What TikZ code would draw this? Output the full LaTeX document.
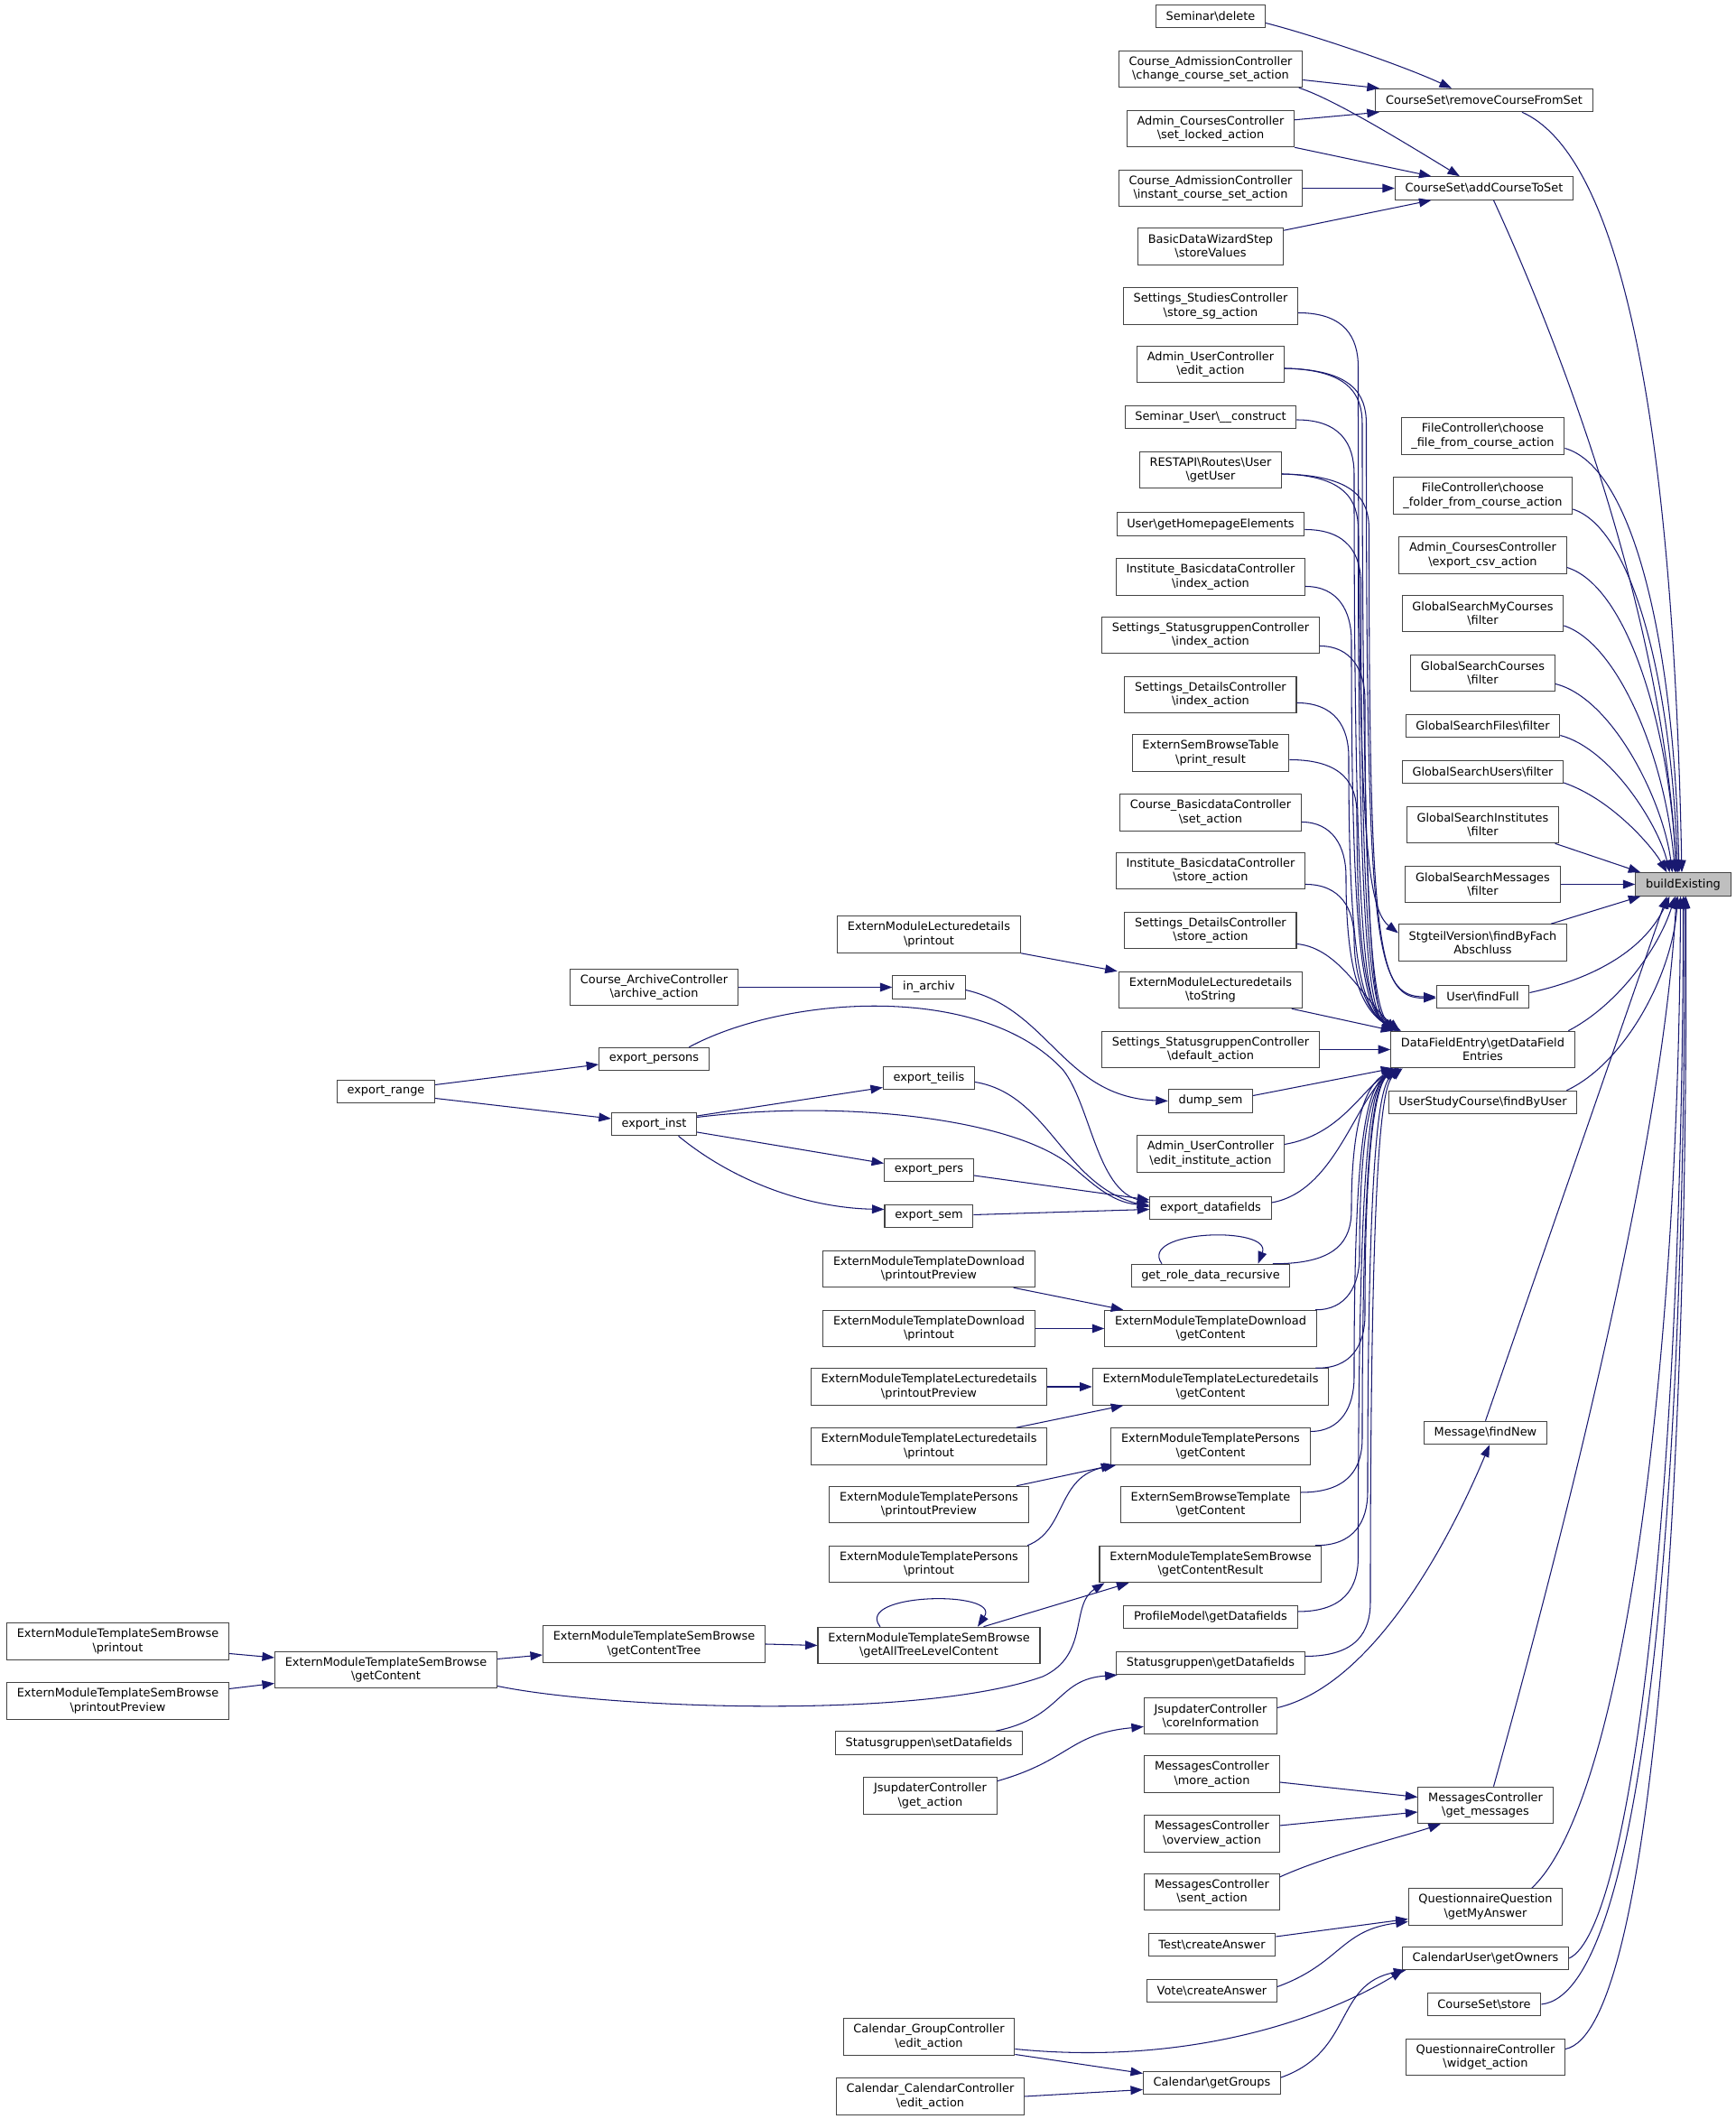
\documentclass[tikz,border=0pt]{standalone}
\usepackage{fontspec}
\setmainfont{DejaVu Sans}
\usetikzlibrary{arrows.meta,calc}
\definecolor{edgecol}{HTML}{191970}
\definecolor{boxcol}{HTML}{444444}
\definecolor{hlcol}{HTML}{BFBFBF}
\newcommand{\bsl}{\textbackslash}
\newcommand{\nodefont}{\fontsize{8.6pt}{10.2pt}\selectfont}
\tikzset{
  nbox/.style={draw=boxcol, line width=0.7pt, fill=white, font=\nodefont,
    inner xsep=7.5pt, inner ysep=0pt, minimum height=17pt, align=center},
  twoline/.style={minimum height=27pt},
  callarrow/.style={draw=edgecol, line width=0.7pt, -{Triangle[length=9pt,width=6.5pt]}},
}
\begin{document}
\begin{tikzpicture}[x=1pt,y=-1pt]
\fill[white] (0,0) rectangle (1282,1564.7);
\useasboundingbox (0,0) rectangle (1282,1564.7);

% ---------- level 0 ----------
\node[nbox,fill=hlcol] (be) at (1243,653) {buildExisting};

% ---------- level 1 ----------
\node[nbox] (rcfs) at (1096,74) {CourseSet\bsl removeCourseFromSet};
\node[nbox] (acts) at (1096,139) {CourseSet\bsl addCourseToSet};
\node[nbox,twoline] (cff) at (1095,322) {FileController\bsl choose\\\_file\_from\_course\_action};
\node[nbox,twoline] (cfo) at (1095,366) {FileController\bsl choose\\\_folder\_from\_course\_action};
\node[nbox,twoline] (ecsv) at (1095,410) {Admin\_CoursesController\\\bsl export\_csv\_action};
\node[nbox,twoline] (gsmc) at (1095,453) {GlobalSearchMyCourses\\\bsl filter};
\node[nbox,twoline] (gsc) at (1095,497) {GlobalSearchCourses\\\bsl filter};
\node[nbox] (gsf) at (1095,536) {GlobalSearchFiles\bsl filter};
\node[nbox] (gsu) at (1095,570) {GlobalSearchUsers\bsl filter};
\node[nbox,twoline] (gsi) at (1095,609) {GlobalSearchInstitutes\\\bsl filter};
\node[nbox,twoline] (gsm) at (1095,653) {GlobalSearchMessages\\\bsl filter};
\node[nbox,twoline] (stg) at (1095,696) {StgteilVersion\bsl findByFach\\Abschluss};
\node[nbox] (uff) at (1095,736) {User\bsl findFull};
\node[nbox,twoline] (dfe) at (1095,775) {DataFieldEntry\bsl getDataField\\Entries};
\node[nbox] (usc) at (1095,814) {UserStudyCourse\bsl findByUser};
\node[nbox] (mfn) at (1097,1058) {Message\bsl findNew};
\node[nbox,twoline] (mgm) at (1097,1333) {MessagesController\\\bsl get\_messages};
\node[nbox,twoline] (qgma) at (1097,1408) {QuestionnaireQuestion\\\bsl getMyAnswer};
\node[nbox] (cugo) at (1097,1446) {CalendarUser\bsl getOwners};
\node[nbox] (css) at (1096,1480) {CourseSet\bsl store};
\node[nbox,twoline] (qcwa) at (1097,1519) {QuestionnaireController\\\bsl widget\_action};

% ---------- level 2 ----------
\node[nbox] (sd) at (894,12) {Seminar\bsl delete};
\node[nbox,twoline] (cacc) at (894,51) {Course\_AdmissionController\\\bsl change\_course\_set\_action};
\node[nbox,twoline] (acsl) at (894,95) {Admin\_CoursesController\\\bsl set\_locked\_action};
\node[nbox,twoline] (caci) at (894,139) {Course\_AdmissionController\\\bsl instant\_course\_set\_action};
\node[nbox,twoline] (bdws) at (894,182) {BasicDataWizardStep\\\bsl storeValues};
\node[nbox,twoline] (sssg) at (894,226) {Settings\_StudiesController\\\bsl store\_sg\_action};
\node[nbox,twoline] (auce) at (894,269) {Admin\_UserController\\\bsl edit\_action};
\node[nbox] (suc) at (894,308) {Seminar\_User\bsl\_\_construct};
\node[nbox,twoline] (rru) at (894,347) {RESTAPI\bsl Routes\bsl User\\\bsl getUser};
\node[nbox] (ugh) at (894,387) {User\bsl getHomepageElements};
\node[nbox,twoline] (ibi) at (894,426) {Institute\_BasicdataController\\\bsl index\_action};
\node[nbox,twoline] (ssi) at (894,469) {Settings\_StatusgruppenController\\\bsl index\_action};
\node[nbox,twoline] (sdi) at (894,513) {Settings\_DetailsController\\\bsl index\_action};
\node[nbox,twoline] (esbt) at (894,556) {ExternSemBrowseTable\\\bsl print\_result};
\node[nbox,twoline] (cbs) at (894,600) {Course\_BasicdataController\\\bsl set\_action};
\node[nbox,twoline] (ibs) at (894,643) {Institute\_BasicdataController\\\bsl store\_action};
\node[nbox,twoline] (sds) at (894,687) {Settings\_DetailsController\\\bsl store\_action};
\node[nbox,twoline] (emlt) at (894,731) {ExternModuleLecturedetails\\\bsl toString};
\node[nbox,twoline] (ssd) at (894,775) {Settings\_StatusgruppenController\\\bsl default\_action};
\node[nbox] (dump) at (894,813) {dump\_sem};
\node[nbox,twoline] (auei) at (894,852) {Admin\_UserController\\\bsl edit\_institute\_action};
\node[nbox] (edf) at (894,892) {export\_datafields};
\node[nbox] (grdr) at (894,942) {get\_role\_data\_recursive};
\node[nbox,twoline] (emtdg) at (894,981) {ExternModuleTemplateDownload\\\bsl getContent};
\node[nbox,twoline] (emtlg) at (894,1024) {ExternModuleTemplateLecturedetails\\\bsl getContent};
\node[nbox,twoline] (emtpg) at (894,1068) {ExternModuleTemplatePersons\\\bsl getContent};
\node[nbox,twoline] (esbtg) at (894,1111) {ExternSemBrowseTemplate\\\bsl getContent};
\node[nbox,twoline] (emtsr) at (894,1155) {ExternModuleTemplateSemBrowse\\\bsl getContentResult};
\node[nbox] (pmgd) at (894,1194) {ProfileModel\bsl getDatafields};
\node[nbox] (sggd) at (894,1228) {Statusgruppen\bsl getDatafields};
\node[nbox,twoline] (jci) at (894,1267) {JsupdaterController\\\bsl coreInformation};
\node[nbox,twoline] (mcmore) at (895,1310) {MessagesController\\\bsl more\_action};
\node[nbox,twoline] (mcov) at (895,1354) {MessagesController\\\bsl overview\_action};
\node[nbox,twoline] (mcsent) at (895,1397) {MessagesController\\\bsl sent\_action};
\node[nbox] (tca) at (895,1436) {Test\bsl createAnswer};
\node[nbox] (vca) at (895,1470) {Vote\bsl createAnswer};
\node[nbox] (cgg) at (895,1538) {Calendar\bsl getGroups};

% ---------- level 3 ----------
\node[nbox,twoline] (emlp) at (686,690) {ExternModuleLecturedetails\\\bsl printout};
\node[nbox] (inar) at (686,729) {in\_archiv};
\node[nbox] (ete) at (686,796) {export\_teilis};
\node[nbox] (epe) at (686,864) {export\_pers};
\node[nbox] (ese) at (686,898) {export\_sem};
\node[nbox,twoline] (emtdpp) at (686,937) {ExternModuleTemplateDownload\\\bsl printoutPreview};
\node[nbox,twoline] (emtdp) at (686,981) {ExternModuleTemplateDownload\\\bsl printout};
\node[nbox,twoline] (emtlpp) at (686,1024) {ExternModuleTemplateLecturedetails\\\bsl printoutPreview};
\node[nbox,twoline] (emtlp) at (686,1068) {ExternModuleTemplateLecturedetails\\\bsl printout};
\node[nbox,twoline] (emtppp) at (686,1111) {ExternModuleTemplatePersons\\\bsl printoutPreview};
\node[nbox,twoline] (emtpp) at (686,1155) {ExternModuleTemplatePersons\\\bsl printout};
\node[nbox,twoline] (emtsatl) at (686,1215) {ExternModuleTemplateSemBrowse\\\bsl getAllTreeLevelContent};
\node[nbox] (sgsd) at (686,1287) {Statusgruppen\bsl setDatafields};
\node[nbox,twoline] (jga) at (687,1326) {JsupdaterController\\\bsl get\_action};
\node[nbox,twoline] (cgce) at (686,1504) {Calendar\_GroupController\\\bsl edit\_action};
\node[nbox,twoline] (ccce) at (687,1548) {Calendar\_CalendarController\\\bsl edit\_action};

% ---------- level 4 ----------
\node[nbox,twoline] (caa) at (483,729) {Course\_ArchiveController\\\bsl archive\_action};
\node[nbox] (epers) at (483,782) {export\_persons};
\node[nbox] (einst) at (483,830) {export\_inst};
\node[nbox,twoline] (emtsct) at (483,1214) {ExternModuleTemplateSemBrowse\\\bsl getContentTree};

% ---------- level 5 ----------
\node[nbox] (erange) at (285,806) {export\_range};
\node[nbox,twoline] (emtsg) at (285,1233) {ExternModuleTemplateSemBrowse\\\bsl getContent};

% ---------- level 6 ----------
\node[nbox,twoline] (emtsp) at (87,1212) {ExternModuleTemplateSemBrowse\\\bsl printout};
\node[nbox,twoline] (emtspp) at (87,1256) {ExternModuleTemplateSemBrowse\\\bsl printoutPreview};

% ================= edges =================
% top group
\draw[callarrow] ($(sd.east)+(0,5)$) .. controls (970,26) and (1035,48) .. ($(rcfs.north)+(-24,0)$);
\draw[callarrow] ($(cacc.east)+(0,8)$) -- ($(rcfs.north west)+(3,0)$);
\draw[callarrow] ($(cacc.south east)+(-3,0)$) .. controls (985,73) and (1040,107) .. ($(acts.north)+(-18,0)$);
\draw[callarrow] ($(acsl.east)+(0,-6.5)$) -- ($(rcfs.south west)+(3,0)$);
\draw[callarrow] (acsl.south east) -- ($(acts.north)+(-39,0)$);
\draw[callarrow] (caci.east) -- (acts.west);
\draw[callarrow] ($(bdws.north east)+(0,2)$) -- ($(acts.south)+(-39,0)$);

% level 1 -> buildExisting
\draw[callarrow] ($(rcfs.south)+(28,0)$) .. controls (1190,112) and (1235,280) .. ($(be.north)+(-1,0)$);
\draw[callarrow] ($(acts.south)+(7,0)$) .. controls (1150,250) and (1228,450) .. ($(be.north)+(-5,0)$);
\draw[callarrow] ($(cff.east)+(0,9)$) .. controls (1205,345) and (1236,470) .. ($(be.north)+(-3,0)$);
\draw[callarrow] ($(cfo.east)+(0,10)$) .. controls (1205,390) and (1234,500) .. ($(be.north)+(-4,0)$);
\draw[callarrow] ($(ecsv.east)+(0,9)$) .. controls (1200,432) and (1232,530) .. ($(be.north)+(-5,0)$);
\draw[callarrow] ($(gsmc.east)+(0,9)$) .. controls (1195,475) and (1230,560) .. ($(be.north)+(-6,0)$);
\draw[callarrow] ($(gsc.east)+(0,8)$) .. controls (1190,515) and (1228,590) .. ($(be.north)+(-8,0)$);
\draw[callarrow] ($(gsf.east)+(0,7)$) .. controls (1190,553) and (1225,610) .. ($(be.north)+(-10,0)$);
\draw[callarrow] ($(gsu.east)+(0,8)$) .. controls (1190,590) and (1220,625) .. ($(be.north)+(-12,0)$);
\draw[callarrow] ($(gsi.south east)+(-3,0)$) -- ($(be.north west)+(4,0)$);
\draw[callarrow] (gsm.east) -- (be.west);
\draw[callarrow] ($(stg.north east)+(-12,0)$) -- ($(be.south west)+(4,0)$);
\draw[callarrow] ($(uff.east)+(0,-3)$) .. controls (1180,722) and (1215,700) .. ($(be.south)+(-10,0)$);
\draw[callarrow] ($(dfe.north east)+(-5,0)$) .. controls (1195,742) and (1225,700) .. ($(be.south)+(-6,0)$);
\draw[callarrow] ($(usc.north east)+(-8,0)$) .. controls (1200,785) and (1235,720) .. ($(be.south)+(-4,0)$);
\draw[callarrow] (mfn.north) -- ($(be.south)+(-12,0)$);
\draw[callarrow] ($(mgm.north)+(6,0)$) .. controls (1150,1150) and (1228,850) .. ($(be.south)+(-5,0)$);
\draw[callarrow] ($(qgma.north east)+(-23,0)$) .. controls (1200,1330) and (1240,1000) .. ($(be.south)+(-2,0)$);
\draw[callarrow] (cugo.east) .. controls (1205,1425) and (1243,1100) .. (be.south);
\draw[callarrow] (css.east) .. controls (1215,1472) and (1245,1100) .. ($(be.south)+(1,0)$);
\draw[callarrow] ($(qcwa.east)+(0,-6)$) .. controls (1220,1500) and (1247,1100) .. ($(be.south)+(2,0)$);

% upper group -> DataFieldEntry / StgteilVersion / User\findFull
\draw[callarrow] ($(sssg.east)+(0,5)$) .. controls (993,231) and (1003,249) .. (1003,271)
   .. controls (1003,600) and (1008,670) .. ($(stg.west)+(0,-7)$);
\draw[callarrow] ($(auce.east)+(0,3)$) .. controls (996,273) and (1006,291) .. (1006,313)
   .. controls (1006,715) and (1016,748) .. ($(dfe.north west)+(2,0)$);
\draw[callarrow] ($(auce.east)+(0,3)$) .. controls (999,273) and (1009,291) .. (1009,313)
   .. controls (1009,700) and (1015,736) .. (uff.west);
\draw[callarrow] ($(suc.east)+(0,2)$) .. controls (990,310) and (1000,328) .. (1000,350)
   .. controls (1000,715) and (1010,748) .. ($(dfe.north west)+(4,0)$);
\draw[callarrow] ($(rru.east)+(0,3)$) .. controls (993,351) and (1003,369) .. (1003,391)
   .. controls (1003,715) and (1013,748) .. ($(dfe.north west)+(3,0)$);
\draw[callarrow] ($(rru.east)+(0,3)$) .. controls (1001,351) and (1011,369) .. (1011,391)
   .. controls (1011,705) and (1018,737) .. ($(uff.west)+(0,1)$);
\draw[callarrow] ($(ugh.east)+(0,4)$) .. controls (995,391) and (1005,409) .. (1005,431)
   .. controls (1005,715) and (1015,748) .. ($(dfe.north west)+(5,0)$);
\draw[callarrow] ($(ibi.east)+(0,7)$) .. controls (988,433) and (998,451) .. (998,473)
   .. controls (998,715) and (1008,748) .. ($(dfe.north west)+(6,0)$);
\draw[callarrow] ($(ssi.east)+(0,8)$) .. controls (998,477) and (1008,495) .. (1008,517)
   .. controls (1008,715) and (1018,748) .. ($(dfe.north west)+(4,0)$);
\draw[callarrow] ($(sdi.east)+(0,6)$) .. controls (986,519) and (996,537) .. (996,559)
   .. controls (996,715) and (1006,748) .. ($(dfe.north west)+(7,0)$);
\draw[callarrow] ($(esbt.east)+(0,5)$) .. controls (992,561) and (1002,579) .. (1002,601)
   .. controls (1002,715) and (1012,748) .. ($(dfe.north west)+(5,0)$);
\draw[callarrow] ($(cbs.east)+(0,7)$) .. controls (984,607) and (994,625) .. (994,647)
   .. controls (994,715) and (1004,748) .. ($(dfe.north west)+(8,0)$);
\draw[callarrow] ($(ibs.east)+(0,10)$) .. controls (990,653) and (1000,671) .. (1000,693)
   .. controls (1000,722) and (1010,750) .. ($(dfe.north west)+(6,0)$);
\draw[callarrow] ($(sds.east)+(0,10)$) .. controls (990,700) and (1008,740) .. ($(dfe.north west)+(7,0)$);
\draw[callarrow] ($(emlt.south east)+(-8,0)$) -- ($(dfe.north west)+(2,0)$);
\draw[callarrow] (ssd.east) -- (dfe.west);
\draw[callarrow] ($(dump.east)+(0,-4)$) -- ($(dfe.south west)+(2,0)$);

% lower group -> DataFieldEntry
\draw[callarrow] ($(auei.east)+(0,-7)$) .. controls (990,838) and (1005,805) .. ($(dfe.south west)+(4,0)$);
\draw[callarrow] ($(edf.east)+(0,-4)$) .. controls (985,880) and (1000,815) .. ($(dfe.south west)+(3,0)$);
\draw[callarrow] ($(grdr.north east)+(-13,0)$) .. controls (988,933.5) and (998,915.5) .. (998,893.5)
   .. controls (998,830) and (1008,800) .. ($(dfe.south west)+(5,0)$);
\draw[callarrow] ($(emtdg.north east)+(-1,0)$) .. controls (994,967.5) and (1004,949.5) .. (1004,927.5)
   .. controls (1004,830) and (1014,800) .. ($(dfe.south west)+(6,0)$);
\draw[callarrow] ($(emtlg.north east)+(-10,0)$) .. controls (998,1011) and (1008,993) .. (1008,971)
   .. controls (1008,830) and (1018,800) .. ($(dfe.south west)+(4,0)$);
\draw[callarrow] ($(emtpg.east)+(0,-11)$) .. controls (990,1057) and (1000,1039) .. (1000,1017)
   .. controls (1000,830) and (1010,800) .. ($(dfe.south west)+(7,0)$);
\draw[callarrow] ($(esbtg.east)+(0,-9)$) .. controls (996,1102) and (1006,1084) .. (1006,1062)
   .. controls (1006,830) and (1016,800) .. ($(dfe.south west)+(5,0)$);
\draw[callarrow] ($(emtsr.north east)+(-5,0)$) .. controls (1000,1141.5) and (1010,1123.5) .. (1010,1101.5)
   .. controls (1010,830) and (1020,800) .. ($(dfe.south west)+(8,0)$);
\draw[callarrow] ($(pmgd.east)+(0,-4)$) .. controls (993,1190) and (1003,1172) .. (1003,1150)
   .. controls (1003,830) and (1013,800) .. ($(dfe.south west)+(6,0)$);
\draw[callarrow] ($(sggd.east)+(0,-5)$) .. controls (1002,1223) and (1012,1205) .. (1012,1183)
   .. controls (1012,830) and (1022,800) .. ($(dfe.south west)+(9,0)$);

% get_role_data_recursive self loop
\draw[callarrow] ($(grdr.north)+(-36,0)$) .. controls (840,908) and (940,905) .. ($(grdr.north)+(35,0)$);

% export tree
\draw[callarrow] (emlp.south east) -- ($(emlt.north west)+(-1,0)$);
\draw[callarrow] (caa.east) -- (inar.west);
\draw[callarrow] ($(inar.east)+(0,2)$) .. controls (775,745) and (785,810) .. (dump.west);
\draw[callarrow] ($(epers.north east)+(-15,0)$) .. controls (580,735) and (725,725) .. (785,790)
   .. controls (805,815) and (810,878) .. ($(edf.west)+(0,-4)$);
\draw[callarrow] ($(einst.east)+(0,-5)$) .. controls (620,812) and (745,825) .. (790,860)
   .. controls (805,872) and (820,888) .. ($(edf.west)+(0,-2)$);
\draw[callarrow] ($(ete.east)+(0,3)$) .. controls (775,808) and (785,875) .. ($(edf.west)+(0,-1)$);
\draw[callarrow] ($(epe.east)+(0,4)$) -- ($(edf.west)+(0,-6)$);
\draw[callarrow] ($(ese.east)+(0,-1)$) -- ($(edf.west)+(0,1)$);
\draw[callarrow] ($(erange.east)+(0,-5)$) -- ($(epers.west)+(0,4)$);
\draw[callarrow] ($(erange.east)+(0,5)$) -- ($(einst.west)+(0,-4)$);
\draw[callarrow] ($(einst.east)+(0,-6)$) -- ($(ete.west)+(0,7)$);
\draw[callarrow] ($(einst.east)+(0,6)$) -- ($(epe.west)+(0,-5)$);
\draw[callarrow] ($(einst.south)+(18,0)$) .. controls (545,875) and (600,892) .. ($(ese.west)+(0,-5)$);

% extern module templates
\draw[callarrow] ($(emtdpp.south east)+(-16,0)$) -- ($(emtdg.north west)+(14,0)$);
\draw[callarrow] (emtdp.east) -- (emtdg.west);
\draw[callarrow] (emtlpp.east) -- (emtlg.west);
\draw[callarrow] ($(emtlp.north east)+(-23,0)$) -- ($(emtlg.south west)+(23,0)$);
\draw[callarrow] ($(emtppp.north east)+(-9,0)$) -- ($(emtpg.south west)+(2,0)$);
\draw[callarrow] ($(emtpp.north east)+(-1,0)$) .. controls (788,1130) and (780,1090) .. ($(emtpg.south west)+(4,0)$);
\draw[callarrow] ($(emtsatl.north east)+(-42,0)$) -- ($(emtsr.south west)+(22,0)$);
\draw[callarrow] ($(emtsg.east)+(0,12)$) .. controls (450,1262) and (680,1270) .. (770,1238)
   .. controls (805,1222) and (790,1185) .. ($(emtsr.south west)+(4,0)$);
\draw[callarrow] ($(emtsatl.north)+(-36,0)$) .. controls (630,1176) and (740,1174) .. ($(emtsatl.north)+(36,0)$);
\draw[callarrow] (emtsct.east) -- (emtsatl.west);
\draw[callarrow] ($(emtsg.east)+(0,-8)$) -- ($(emtsct.west)+(0,8)$);
\draw[callarrow] ($(emtsp.east)+(0,9)$) -- ($(emtsg.west)+(0,-9)$);
\draw[callarrow] ($(emtspp.east)+(0,-9)$) -- ($(emtsg.west)+(0,10)$);

% statusgruppen, jsupdater
\draw[callarrow] ($(sgsd.north east)+(-20,0)$) .. controls (785,1268) and (780,1240) .. ($(sggd.south west)+(1,0)$);
\draw[callarrow] ($(jga.north east)+(0,3)$) .. controls (790,1300) and (790,1280) .. ($(jci.west)+(0,8)$);
\draw[callarrow] ($(jci.east)+(0,-6)$) .. controls (1010,1245) and (1065,1150) .. ($(mfn.south)+(3,0)$);

% messages
\draw[callarrow] ($(mcmore.east)+(0,6)$) -- ($(mgm.west)+(0,-6)$);
\draw[callarrow] ($(mcov.east)+(0,-6)$) -- ($(mgm.west)+(0,5)$);
\draw[callarrow] ($(mcsent.east)+(0,-11)$) .. controls (980,1370) and (1040,1355) .. ($(mgm.south west)+(17,0)$);

% questionnaire
\draw[callarrow] ($(tca.east)+(0,-6)$) -- ($(qgma.west)+(0,9)$);
\draw[callarrow] ($(vca.east)+(0,-3)$) .. controls (990,1450) and (990,1425) .. ($(qgma.west)+(0,11)$);

% calendar
\draw[callarrow] ($(cgce.east)+(0,9)$) .. controls (870,1525) and (970,1495) .. ($(cugo.south west)+(1,0)$);
\draw[callarrow] ($(cgce.east)+(0,13)$) -- ($(cgg.west)+(0,-7)$);
\draw[callarrow] (ccce.east) -- ($(cgg.west)+(0,5)$);
\draw[callarrow] ($(cgg.east)+(0,-4)$) .. controls (1000,1515) and (985,1465) .. ($(cugo.south west)+(3,0)$);

\end{tikzpicture}
\end{document}
